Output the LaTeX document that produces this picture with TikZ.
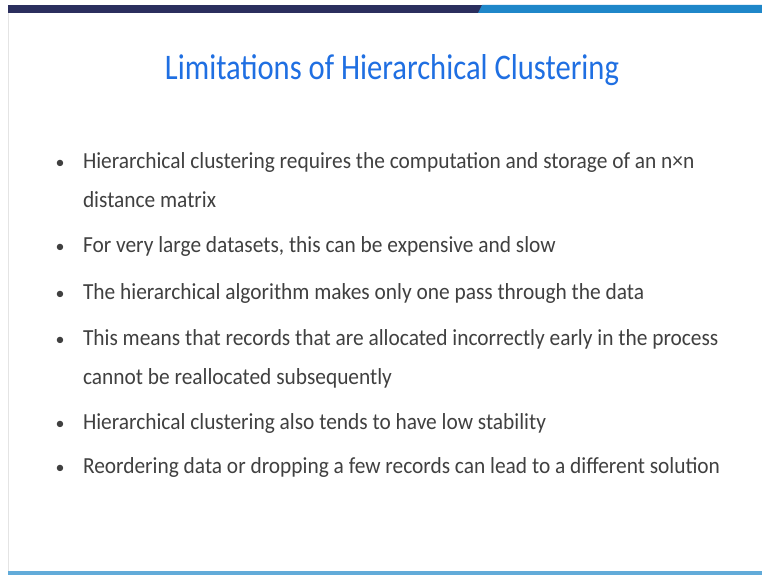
\documentclass[tikz,border=0pt]{standalone}
\usepackage{fontspec}
\setmainfont{Carlito}
\definecolor{barnavy}{HTML}{2B2F5E}
\definecolor{barblue}{HTML}{1F87C9}
\definecolor{titleblue}{HTML}{1F6FE2}
\definecolor{bodygray}{HTML}{404040}
\definecolor{edgegray}{HTML}{E4E4E4}
\newcommand{\twolines}[2]{\vtop{\hbox{#1}\hbox{#2}}}
\begin{document}
\begin{tikzpicture}[x=1pt,y={(0,-1pt)},inner sep=0pt,outer sep=0pt,
title/.style={text=titleblue,font=\fontsize{36}{40}\selectfont,xscale=0.85,anchor=base},
item/.style={text=bodygray,font=\fontsize{23}{39}\selectfont,xscale=0.93,anchor=base west},
dot/.style={text=bodygray,font=\fontsize{18}{39}\selectfont,anchor=base}]
\useasboundingbox (0,0) rectangle (762,575);
\fill[white] (0,0) rectangle (762,575);
% top bar
\fill[barnavy] (8,5) rectangle (482,13);
\fill[barblue] (478,13) -- (482,5) -- (762,5) -- (762,13) -- cycle;
% frame edges
\draw[edgegray,line width=1pt] (8,13) -- (8,572);
\fill[barblue!70] (8,571) rectangle (762,575);
% title
\draw (392,80) node[title] (head) {Limitations of Hierarchical Clustering};
% bullets
\draw (83,168) node[item] (b1) {\twolines{Hierarchical clustering requires the computation and storage of an n×n}{distance matrix}};
\draw (83,252) node[item] (b2) {For very large datasets, this can be expensive and slow};
\draw (83,299) node[item] (b3) {The hierarchical algorithm makes only one pass through the data};
\draw (83,345) node[item] (b4) {\twolines{This means that records that are allocated incorrectly early in the process}{cannot be reallocated subsequently}};
\draw (83,429) node[item] (b5) {Hierarchical clustering also tends to have low stability};
\draw (83,473) node[item] (b6) {Reordering data or dropping a few records can lead to a different solution};
\foreach \b in {b1,b2,b3,b4,b5,b6}
  \draw (\b.base west) ++(-23,0) node[dot] {•};
\end{tikzpicture}
\end{document}
